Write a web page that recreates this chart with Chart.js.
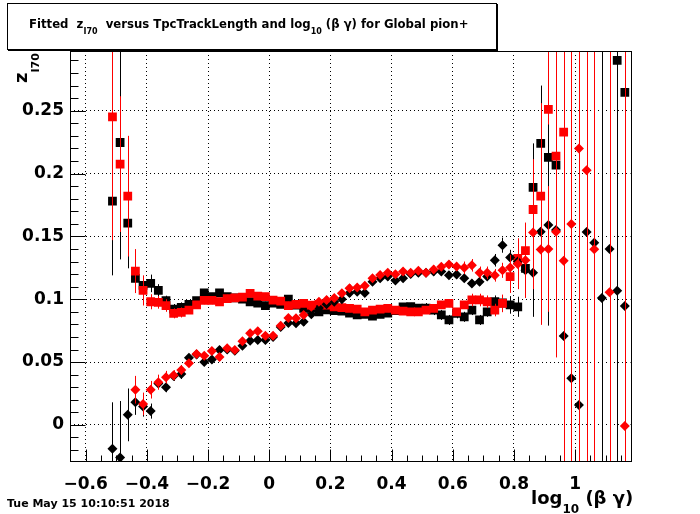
<!DOCTYPE html>
<html>
<head>
<meta charset="utf-8">
<script src="https://cdn.jsdelivr.net/npm/chart.js@4.4.1/dist/chart.umd.min.js"></script>
<style>
html,body{margin:0;padding:0;background:#fff;}
#wrap{position:relative;width:700px;height:514px;overflow:hidden;font-family:"DejaVu Sans",sans-serif;font-weight:bold;color:#000;}
#c{position:absolute;left:0;top:0;}
.txt{position:absolute;white-space:pre;line-height:1;}
#titlebox{position:absolute;left:7px;top:3px;width:490px;height:47px;box-sizing:border-box;border:1px solid #000;box-shadow:1px 1px 0 #000;background:#fff;}
.sub{position:relative;}
</style>
</head>
<body>
<div id="wrap">
<canvas id="c" width="700" height="514"></canvas>
<div id="titlebox"></div>
<div class="txt" id="title" style="left:29px;top:19.3px;font-size:11.7px;">Fitted  z<span class="sub" style="font-size:8px;top:6px;">I70</span>  versus TpcTrackLength and log<span class="sub" style="font-size:8px;top:6px;">10</span> (β γ) for Global pion+</div>
<div class="txt" id="ytitle" style="left:11.5px;top:83px;font-size:18px;transform:rotate(-90deg);transform-origin:0 0;">z<span class="sub" style="font-size:11px;top:12px;">I70</span></div>
<div class="txt" id="xtitle" style="left:531px;top:489px;font-size:18px;">log<span class="sub" style="font-size:12px;top:9px;">10</span> (β γ)</div>
<div class="txt" id="date" style="left:7px;top:498px;font-size:11px;">Tue May 15 10:10:51 2018</div>
</div>
<script>
// ---- data ----
const xBins = [-0.5125,-0.4875,-0.4625,-0.4375,-0.4125,-0.3875,-0.3625,-0.3375,-0.3125,-0.2875,
 -0.2625,-0.2375,-0.2125,-0.1875,-0.1625,-0.1375,-0.1125,-0.0875,-0.0625,-0.0375,
 -0.0125,0.0125,0.0375,0.0625,0.0875,0.1125,0.1375,0.1625,0.1875,0.2125,
 0.2375,0.2625,0.2875,0.3125,0.3375,0.3625,0.3875,0.4125,0.4375,0.4625,
 0.4875,0.5125,0.5375,0.5625,0.5875,0.6125,0.6375,0.6625,0.6875,0.7125,
 0.7375,0.7625,0.7875,0.8125,0.8375,0.8625,0.8875,0.9125,0.9375,0.9625,
 0.9875,1.0125,1.0375,1.0625,1.0875,1.1125,1.1375,1.1625];

const blackSquares = [0.178,0.2247,0.1606,0.1166,0.111,0.1126,0.107,0.0988,0.0922,0.0935,
 0.096,0.0988,0.105,0.102,0.105,0.102,0.101,0.100,0.098,0.097,
 0.095,0.097,0.096,0.100,0.0954,0.0927,0.093,0.090,0.0915,0.091,
 0.0905,0.089,0.0875,0.088,0.0865,0.088,0.089,0.091,0.094,0.0941,
 0.093,0.093,0.0914,0.0875,0.0835,0.0888,0.086,0.0914,0.0835,0.090,
 0.098,0.097,0.0955,0.094,0.1245,0.189,0.224,0.2128,0.2067,null,
 null,null,null,null,null,null,0.290,0.2645];
const blackSquaresErr = [0.059,0.093,0.036,0.010,0.006,0.007,0.005,0.004,0.004,0.004,
 0.003,0.003,0.003,0.003,0.003,0.003,0.003,0.003,0.003,0.003,
 0.003,0.003,0.003,0.003,0.003,0.003,0.003,0.003,0.003,0.003,
 0.003,0.003,0.003,0.003,0.003,0.003,0.003,0.003,0.003,0.003,
 0.003,0.004,0.004,0.004,0.004,0.004,0.004,0.004,0.004,0.004,
 0.005,0.006,0.007,0.008,0.012,0.035,0.046,0.062,0.05,null,
 null,null,null,null,null,null,0.4,0.4];

const redSquares = [0.245,0.2075,0.182,0.1224,0.107,0.098,0.0975,0.095,0.0888,0.0895,
 0.0914,0.0956,0.099,0.099,0.098,0.1005,0.101,0.1017,0.1047,0.1025,
 0.102,0.0993,0.0985,0.095,0.0959,0.0967,0.0954,0.0959,0.0954,0.094,
 0.0933,0.0927,0.0922,0.090,0.0914,0.0922,0.0927,0.0914,0.0906,0.090,
 0.090,0.0914,0.0927,0.0955,0.0967,0.090,0.0955,0.0994,0.0994,0.098,
 0.0914,0.0967,0.118,0.1325,0.1386,0.1714,0.182,0.251,0.2138,0.233,
 null,null,null,null,null,null,null,null];
const redSquaresErr = [0.098,0.054,0.048,0.0175,0.012,0.006,0.005,0.005,0.004,0.004,
 0.003,0.003,0.003,0.003,0.003,0.003,0.003,0.003,0.003,0.003,
 0.003,0.003,0.003,0.003,0.003,0.003,0.003,0.003,0.003,0.003,
 0.003,0.003,0.003,0.003,0.003,0.003,0.003,0.003,0.003,0.003,
 0.003,0.003,0.003,0.003,0.003,0.003,0.003,0.005,0.005,0.005,
 0.005,0.007,0.013,0.016,0.02,0.04,0.074,0.17,0.107,0.4,
 null,null,null,null,null,null,null,null];

const blackDiamonds = [-0.019,-0.026,0.008,0.018,0.0146,0.011,0.033,0.030,0.039,0.0405,
 0.0535,0.056,0.050,0.052,0.0596,0.060,0.059,0.063,0.067,0.0676,
 0.0676,0.070,0.078,0.081,0.0808,0.082,0.088,0.093,0.096,0.098,
 0.100,0.105,0.106,0.105,0.114,0.1166,0.118,0.115,0.1166,0.120,
 0.121,0.121,0.122,0.122,0.119,0.1197,0.1166,0.1126,0.114,0.118,
 0.131,0.143,0.1333,0.130,0.123,0.121,0.1537,0.159,0.155,0.0707,
 0.0371,0.0159,0.1534,0.145,0.101,0.140,0.1068,0.0946];
const blackDiamondsErr = [0.037,0.045,0.021,0.010,0.008,0.006,0.004,0.004,0.004,0.004,
 0.003,0.003,0.003,0.003,0.003,0.003,0.003,0.003,0.003,0.003,
 0.003,0.003,0.003,0.003,0.003,0.003,0.003,0.003,0.003,0.003,
 0.003,0.003,0.003,0.003,0.003,0.003,0.003,0.003,0.003,0.003,
 0.003,0.003,0.003,0.003,0.003,0.003,0.003,0.003,0.003,0.003,
 0.005,0.006,0.006,0.01,0.015,0.035,0.03,0.08,0.05,0.15,
 0.1,0.05,0.1,0.1,0.4,0.1,0.4,0.4];

const redDiamonds = [null,null,null,0.028,0.0167,0.028,0.034,0.038,0.0395,0.0437,
 0.049,0.0564,0.055,0.0588,0.054,0.061,0.0596,0.0665,0.073,0.0745,
 0.071,0.071,0.079,0.085,0.0848,0.0874,0.094,0.098,0.0993,0.101,
 0.1047,0.1087,0.1094,0.1107,0.1166,0.1192,0.1211,0.1198,0.122,0.121,
 0.1227,0.121,0.1237,0.1259,0.1277,0.126,0.125,0.127,0.121,0.121,
 0.119,0.123,0.1253,0.128,0.131,0.153,0.1396,0.140,0.1537,0.1306,
 0.1598,0.220,0.2027,0.1397,null,0.1055,null,-0.0008];
const redDiamondsErr = [null,null,null,0.011,0.009,0.007,0.006,0.005,0.004,0.004,
 0.003,0.003,0.003,0.003,0.003,0.003,0.003,0.003,0.003,0.003,
 0.003,0.003,0.003,0.003,0.003,0.003,0.003,0.003,0.003,0.003,
 0.003,0.003,0.003,0.003,0.003,0.003,0.003,0.003,0.003,0.003,
 0.003,0.003,0.003,0.003,0.003,0.003,0.005,0.005,0.005,0.005,
 0.005,0.006,0.01,0.02,0.03,0.045,0.06,0.05,0.1,0.4,
 0.4,0.4,0.4,0.4,null,0.4,null,0.4];

const xTickValues = [-0.6,-0.4,-0.2,0,0.2,0.4,0.6,0.8,1.0];
const xTickLabels = ["\u22120.6","\u22120.4","\u22120.2","0","0.2","0.4","0.6","0.8","1"];
const yTickValues = [0,0.05,0.1,0.15,0.2,0.25];
const yTickLabels = ["0","0.05","0.1","0.15","0.2","0.25"];

// ---- chart ----
const toPts = (ys) => xBins.map((x, i) => ({x: x, y: ys[i]}));

const errorBars = {
  id: 'errorBars',
  beforeDatasetDraw(chart, args) {
    const ds = chart.data.datasets[args.index];
    const errs = ds.errors;
    if (!errs) return;
    const xs = chart.scales.x, ys = chart.scales.y, ca = chart.chartArea, ctx = chart.ctx;
    ctx.save();
    ctx.beginPath();
    ctx.rect(ca.left, ca.top, ca.right - ca.left, ca.bottom - ca.top);
    ctx.clip();
    ctx.strokeStyle = ds.backgroundColor;
    ctx.lineWidth = 1;
    ds.data.forEach((p, i) => {
      if (p.y === null || errs[i] == null) return;
      const px = Math.round(xs.getPixelForValue(p.x)) + 0.5;
      ctx.beginPath();
      ctx.moveTo(px, ys.getPixelForValue(p.y - errs[i]));
      ctx.lineTo(px, ys.getPixelForValue(p.y + errs[i]));
      ctx.stroke();
    });
    ctx.restore();
  }
};

const frameTicks = {
  id: 'frameTicks',
  afterDatasetsDraw(chart) {
    const {ctx, chartArea: ca, scales: {x, y}} = chart;
    ctx.save();
    ctx.strokeStyle = '#000';
    ctx.lineWidth = 1;
    ctx.beginPath();
    const L = Math.round(ca.left) + 0.5, B = Math.round(ca.bottom) - 0.5;
    for (let v = -0.02; v <= 0.2951; v += 0.01) {
      const py = Math.round(y.getPixelForValue(v)) + 0.5;
      const major = yTickValues.some(t => Math.abs(t - v) < 1e-6);
      ctx.moveTo(L, py); ctx.lineTo(L + (major ? 15 : 8), py);
    }
    for (let v = -0.65; v <= 1.1801; v += 0.05) {
      const px = Math.round(x.getPixelForValue(v)) + 0.5;
      if (px < ca.left || px > ca.right) continue;
      const major = xTickValues.some(t => Math.abs(t - v) < 1e-6);
      ctx.moveTo(px, B); ctx.lineTo(px, B - (major ? 12 : 6));
    }
    ctx.stroke();
    ctx.strokeRect(L, Math.round(ca.top) + 0.5, Math.round(ca.right) - Math.round(ca.left), Math.round(ca.bottom) - Math.round(ca.top) - 1);
    ctx.restore();
  }
};

const tickFont = {family: 'DejaVu Sans', size: 17, weight: 'bold'};

new Chart(document.getElementById('c'), {
  type: 'scatter',
  data: {
    datasets: [
      {label: 'red diamonds', data: toPts(redDiamonds), errors: redDiamondsErr, backgroundColor: '#ff0000', borderColor: '#ff0000', pointStyle: 'rectRot', pointRadius: 5, pointBorderWidth: 0, pointHoverRadius: 5},
      {label: 'black diamonds', data: toPts(blackDiamonds), errors: blackDiamondsErr, backgroundColor: '#000000', borderColor: '#000000', pointStyle: 'rectRot', pointRadius: 5, pointBorderWidth: 0, pointHoverRadius: 5},
      {label: 'red squares', data: toPts(redSquares), errors: redSquaresErr, backgroundColor: '#ff0000', borderColor: '#ff0000', pointStyle: 'rect', pointRadius: 6.2, pointBorderWidth: 0, pointHoverRadius: 6},
      {label: 'black squares', data: toPts(blackSquares), errors: blackSquaresErr, backgroundColor: '#000000', borderColor: '#000000', pointStyle: 'rect', pointRadius: 6.2, pointBorderWidth: 0, pointHoverRadius: 6}
    ]
  },
  options: {
    responsive: false,
    animation: false,
    events: [],
    layout: {padding: {top: 51, right: 69.5, left: 0, bottom: 0}},
    plugins: {legend: {display: false}, tooltip: {enabled: false}, title: {display: false}},
    scales: {
      x: {
        type: 'linear', position: 'bottom', min: -0.6513, max: 1.181,
        afterFit: (s) => { s.height = 52; },
        afterBuildTicks: (s) => { s.ticks = xTickValues.map(v => ({value: v})); },
        ticks: {font: tickFont, color: '#000', padding: 12, maxRotation: 0, autoSkip: false,
          callback: (v, i) => xTickLabels[i]},
        grid: {color: '#000', lineWidth: 1, drawTicks: false},
        border: {display: false, dash: [1, 3]}
      },
      y: {
        type: 'linear', position: 'left', min: -0.0295, max: 0.2975,
        afterFit: (s) => { s.width = 70; },
        afterBuildTicks: (s) => { s.ticks = yTickValues.map(v => ({value: v})); },
        ticks: {font: tickFont, color: '#000', padding: 6, autoSkip: false,
          callback: (v, i) => yTickLabels[i]},
        grid: {color: '#000', lineWidth: 1, drawTicks: false},
        border: {display: false, dash: [1, 3]}
      }
    }
  },
  plugins: [errorBars, frameTicks]
});
</script>
</body>
</html>
